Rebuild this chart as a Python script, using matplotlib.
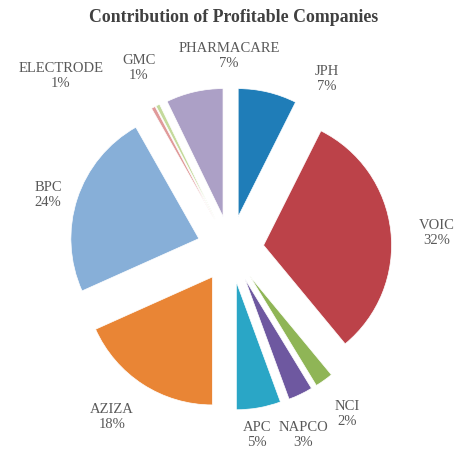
import matplotlib
matplotlib.use('Agg')
import matplotlib.pyplot as plt

# data (share of profit, %), clockwise from 12 o'clock
companies = ['JPH', 'VOIC', 'NCI', 'NAPCO', 'APC', 'AZIZA', 'BPC', 'ELECTRODE', 'GMC', 'PHARMACARE']
shares = [7.4, 31.6, 2.3, 3.1, 5.6, 18.3, 23.5, 0.5, 0.5, 7.2]
pct_labels = ['7%', '32%', '2%', '3%', '5%', '18%', '24%', '1%', '1%', '7%']
colors = ['#1F7DB8', '#BC4249', '#8FB556', '#6E58A0', '#2AA6C6', '#E98535',
          '#87AFD8', '#E09A9A', '#C4DA9C', '#ACA0C6']

# label anchor points in pixels (x from left, y from top)
label_px = [(327, 79), (437, 233), (347, 414), (303, 435), (257, 435),
            (112, 417), (48, 195), (61, 76), (139, 68), (229, 56)]

W, H = 467, 450
cx, cy, R = 230.5, 249.0, 128.0  # pie centre and radius in pixels

plt.rcParams['font.family'] = ['Liberation Serif', 'DejaVu Serif']

fig = plt.figure(figsize=(W / 100, H / 100), dpi=100)
ax = fig.add_axes([0, 0, 1, 1])

ax.pie(shares, colors=colors, startangle=90, counterclock=False,
       explode=[0.26] * len(shares),
       wedgeprops=dict(edgecolor='white', linewidth=0.5))

ax.set_xlim(-cx / R, (W - cx) / R)
ax.set_ylim(-(H - cy) / R, cy / R)
ax.set_aspect('auto')
ax.axis('off')

for name, pct, (px, py) in zip(companies, pct_labels, label_px):
    ax.text((px - cx) / R, (cy - py) / R, name + '\n' + pct,
            ha='center', va='center', fontsize=10.5, color='#595959',
            linespacing=1.15)

fig.text(0.5, 1 - 17 / H, 'Contribution of Profitable Companies',
         ha='center', va='center', fontsize=12.8, fontweight='bold',
         color='#404040')

fig.savefig('out.png', dpi=100)
